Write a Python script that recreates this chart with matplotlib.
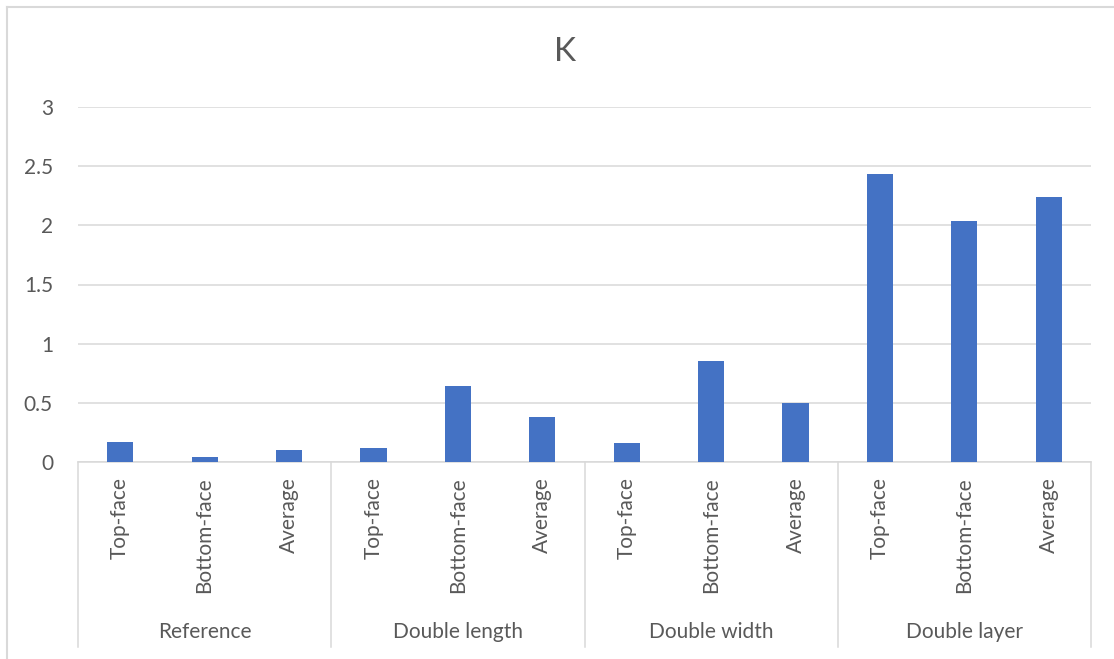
import matplotlib
matplotlib.use('agg')
import matplotlib.pyplot as plt
import matplotlib.transforms as mtransforms
from matplotlib.lines import Line2D
import numpy as np

plt.rcParams['font.family'] = ['Lato', 'DejaVu Sans']

# data
groups = ['Reference', 'Double length', 'Double width', 'Double layer']
faces = ['Top-face', 'Bottom-face', 'Average']
k_values = [0.17, 0.04, 0.10,
            0.12, 0.64, 0.38,
            0.16, 0.85, 0.50,
            2.43, 2.04, 2.24]
y_ticks = [0, 0.5, 1, 1.5, 2, 2.5, 3]
y_tick_labels = ['0', '0.5', '1', '1.5', '2', '2.5', '3']

text_col = '#595959'
grid_col = '#d9d9d9'
bar_col = '#4472C4'
fs = 15

W, H = 1114, 659
fig = plt.figure(figsize=(W / 100, H / 100), dpi=100)
ax = fig.add_axes([78 / W, 1 - 462 / H, (1091 - 78) / W, (462 - 107) / H])

x = np.arange(len(k_values))
ax.bar(x, k_values, width=0.31, color=bar_col, zorder=3)

ax.set_xlim(-0.5, len(k_values) - 0.5)
ax.set_ylim(0, 3)
ax.set_yticks(y_ticks)
ax.set_yticklabels(y_tick_labels, fontsize=fs, color=text_col)
ax.tick_params(axis='y', length=0, pad=18)
ax.set_xticks([])
ax.grid(axis='y', color=grid_col, linewidth=1.1, zorder=0)
for s in ['top', 'right', 'left']:
    ax.spines[s].set_visible(False)
ax.spines['bottom'].set_color(grid_col)
ax.spines['bottom'].set_linewidth(1.1)

# two-level category axis
trans = mtransforms.blended_transform_factory(ax.transData, ax.transAxes)
low = (462 - 647) / (462 - 107)
for i, name in enumerate(x):
    ax.text(name, -0.043, faces[i % 3], rotation=90, ha='center', va='top',
            fontsize=fs, color=text_col, transform=trans)
for g in range(len(groups) + 1):
    ax.add_line(Line2D([g * 3 - 0.5] * 2, [0, low], color=grid_col,
                       linewidth=1.1, transform=trans, clip_on=False))
for g, name in enumerate(groups):
    ax.text(g * 3 + 1, (462 - 632) / (462 - 107), name, ha='center',
            va='center', fontsize=fs, color=text_col, transform=trans)

fig.text(565 / W, 1 - 52 / H, 'K', ha='center', va='center',
         fontsize=24, color=text_col)

# chart border
fig.add_artist(Line2D([7 / W, 7 / W], [0, 1 - 7 / H], color=grid_col,
                      linewidth=1.5, transform=fig.transFigure))
fig.add_artist(Line2D([7 / W, 1], [1 - 7 / H, 1 - 7 / H], color=grid_col,
                      linewidth=1.5, transform=fig.transFigure))

fig.savefig('out.png', dpi=100)
